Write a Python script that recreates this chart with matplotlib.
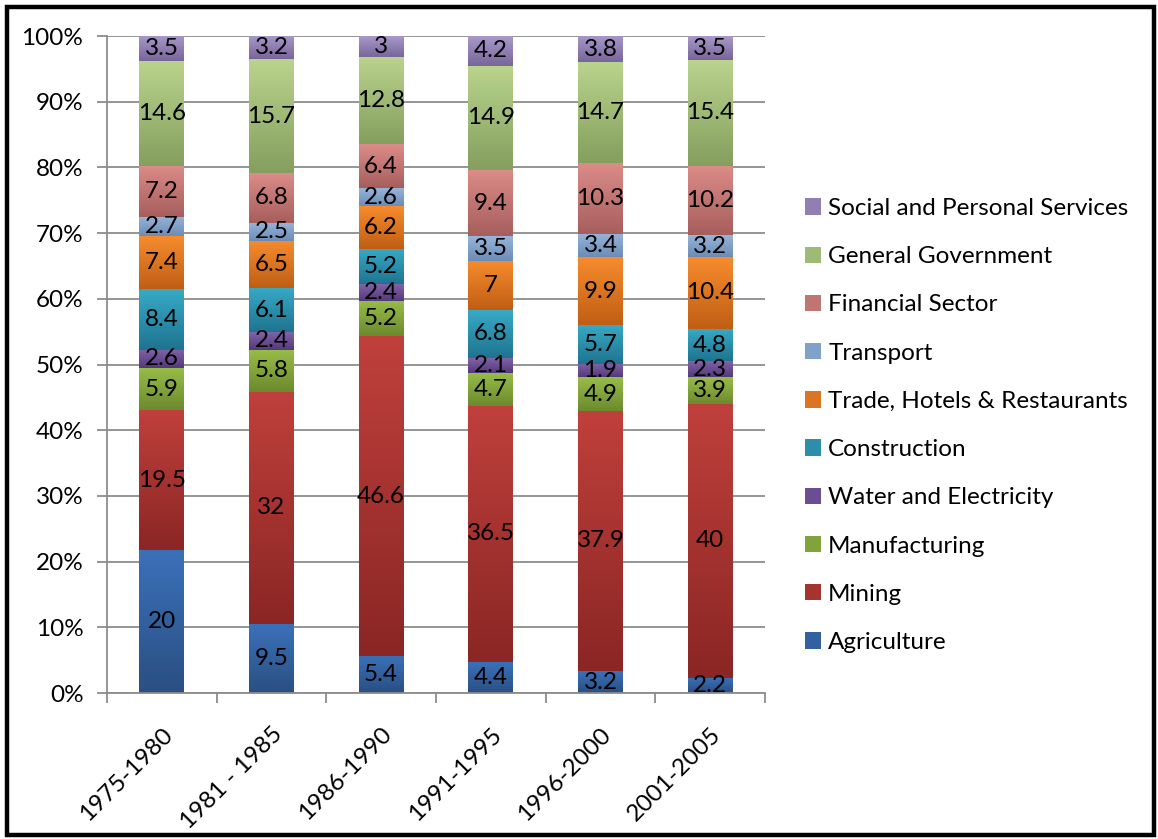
import numpy as np
import matplotlib.pyplot as plt
from matplotlib.patches import Rectangle, Patch
from matplotlib.ticker import FuncFormatter

plt.rcParams['font.family'] = ['Lato', 'DejaVu Sans']

# === Data (values as labelled, shares of GDP by sector) ===
periods = ['1975-1980', '1981 - 1985', '1986-1990', '1991-1995', '1996-2000', '2001-2005']
agriculture = [20, 9.5, 5.4, 4.4, 3.2, 2.2]
mining = [19.5, 32, 46.6, 36.5, 37.9, 40]
manufacturing = [5.9, 5.8, 5.2, 4.7, 4.9, 3.9]
water_electricity = [2.6, 2.4, 2.4, 2.1, 1.9, 2.3]
construction = [8.4, 6.1, 5.2, 6.8, 5.7, 4.8]
trade_hotels = [7.4, 6.5, 6.2, 7, 9.9, 10.4]
transport = [2.7, 2.5, 2.6, 3.5, 3.4, 3.2]
financial = [7.2, 6.8, 6.4, 9.4, 10.3, 10.2]
government = [14.6, 15.7, 12.8, 14.9, 14.7, 15.4]
social = [3.5, 3.2, 3, 4.2, 3.8, 3.5]

sector_names = ['Agriculture', 'Mining', 'Manufacturing', 'Water and Electricity',
                'Construction', 'Trade, Hotels & Restaurants', 'Transport',
                'Financial Sector', 'General Government', 'Social and Personal Services']
sector_values = [agriculture, mining, manufacturing, water_electricity, construction,
                 trade_hotels, transport, financial, government, social]

# gradient colours per sector: (top, bottom)
grad_colors = [('#3B71BA', '#2A4F82'),
               ('#C0403C', '#8A2624'),
               ('#98BD48', '#6C8A2E'),
               ('#8163A8', '#54397A'),
               ('#38AAC6', '#1E7490'),
               ('#F78C2E', '#BF5E14'),
               ('#97B5DA', '#6C8CB6'),
               ('#DC8C89', '#A65E5C'),
               ('#BAD48E', '#849F5E'),
               ('#A999CB', '#786599')]

FS = 17.5


def hex_rgb(h):
    h = h.lstrip('#')
    return np.array([int(h[i:i + 2], 16) for i in (0, 2, 4)]) / 255.0


# === Normalize to 100% ===
vals = np.array(sector_values, dtype=float)
totals = vals.sum(axis=0)
pct = vals / totals * 100

fig = plt.figure(figsize=(11.58, 8.39), dpi=100)
ax = fig.add_axes([0.0924, 0.174, 0.5682, 0.783])

x = np.arange(len(periods))
bottom = np.zeros(len(periods))
width = 0.41
grad = np.linspace(0, 1, 200).reshape(-1, 1, 1)

for i, name in enumerate(sector_names):
    top_c, bot_c = grad_colors[i]
    c_top, c_bot = hex_rgb(top_c), hex_rgb(bot_c)
    mid = (c_top + c_bot) / 2
    bars = ax.bar(x, pct[i], width, bottom=bottom, color=mid, zorder=2, label=name)
    img = c_top * (1 - grad) + c_bot * grad
    for j, patch in enumerate(bars):
        x0, y0 = patch.get_x(), patch.get_y()
        w, h = patch.get_width(), patch.get_height()
        ax.imshow(img, extent=[x0, x0 + w, y0, y0 + h], origin='upper',
                  aspect='auto', zorder=2.5, interpolation='bilinear')
        ax.text(x0 + w / 2, y0 + h / 2, f'{vals[i][j]:g}', ha='center', va='center',
                fontsize=FS, color='black', zorder=4)
    bottom += pct[i]

ax.set_xlim(-0.5, len(periods) - 0.5)
ax.set_ylim(0, 100)
ax.set_yticks(np.arange(0, 101, 10))
ax.yaxis.set_major_formatter(FuncFormatter(lambda v, p: f'{v:.0f}%'))
ax.yaxis.grid(True, color='#8C8C8C', linewidth=1.3, zorder=0)
ax.set_axisbelow(True)

ax.set_xticks(x)
ax.set_xticklabels(periods, rotation=45, ha='right', rotation_mode='anchor')
ax.set_xticks(np.arange(-0.5, len(periods), 1), minor=True)
ax.tick_params(axis='x', which='major', length=0, pad=22, labelsize=FS)
ax.tick_params(axis='x', which='minor', length=7, color='#8C8C8C', width=1.3)
ax.tick_params(axis='y', length=7, color='#8C8C8C', width=1.3, labelsize=FS, pad=10)
for lbl in ax.get_xticklabels():
    lbl.set_x(lbl.get_position()[0])

for s in ['top', 'right']:
    ax.spines[s].set_visible(False)
for s in ['left', 'bottom']:
    ax.spines[s].set_color('#8C8C8C')
    ax.spines[s].set_linewidth(1.3)

handles = [Patch(facecolor=(hex_rgb(t) + hex_rgb(b)) / 2) for t, b in grad_colors]
fig.legend(handles[::-1], sector_names[::-1], loc='upper left',
           bbox_to_anchor=(0.695, 0.764), frameon=False, fontsize=FS,
           handlelength=0.66, handleheight=0.66, handletextpad=0.3,
           labelspacing=1.12, borderpad=0, borderaxespad=0)

# outer black frame
fig.patches.append(Rectangle((7 / 1158, 4 / 839), 1147 / 1158, 828 / 839,
                             transform=fig.transFigure, fill=False,
                             edgecolor='black', linewidth=3.2))

fig.savefig('out.png', dpi=100)
